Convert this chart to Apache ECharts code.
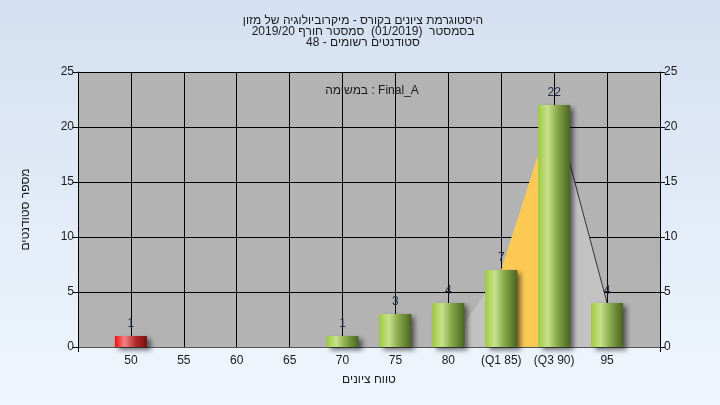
<!DOCTYPE html>
<html><head><meta charset="utf-8">
<script src="https://cdn.jsdelivr.net/npm/echarts@6/dist/echarts.min.js"></script>
<style>html,body{margin:0;padding:0}#c{width:720px;height:405px}</style>
</head><body><div id="c"></div>
<script>
const categories = ['', '50', '55', '60', '65', '70', '75', '80', '(Q1 85)', '(Q3 90)', '95', ''];
const counts = [null, 1, null, null, null, 1, 3, 4, 7, 22, 4, null];
const curve = [null, null, null, null, null, null, null, 0, 7, 22, 4, null];
const iqrBand = [null, null, null, null, null, null, null, null, 7, 22, null, null];
const tailLine = [null, null, null, null, null, null, null, null, null, 22, 4, null];
const failing = ['50'];
const yTicks = [0, 5, 10, 15, 20, 25];
const titleLines = ['היסטוגרמת ציונים בקורס - מיקרוביולוגיה של מזון', 'בסמסטר  (01/2019)  סמסטר חורף 2019/20', 'סטודנטים רשומים - 48'];
const subTitle = 'במשימה : Final_A';
const xName = 'טווח ציונים';
const yName = 'מספר סטודנטים';

const FONT = "'Liberation Sans', 'DejaVu Sans', Arial, sans-serif";
const TXT = '#1a1a1a';

const green = {type:'linear', x:0, y:0, x2:1, y2:0, colorStops:[
  {offset:0, color:'#9fcb3f'}, {offset:0.3, color:'#c7e18c'}, {offset:0.6, color:'#87a84a'}, {offset:1, color:'#4a6420'}]};
const red = {type:'linear', x:0, y:0, x2:1, y2:0, colorStops:[
  {offset:0, color:'#f21010'}, {offset:0.3, color:'#f28282'}, {offset:0.65, color:'#b42828'}, {offset:1, color:'#781010'}]};

const barData = counts.map((v, i) => v == null ? null : {
  value: v,
  itemStyle: { color: failing.includes(categories[i]) ? red : green }
});

const chart = echarts.init(document.getElementById('c'), null, {renderer:'canvas'});
chart.setOption({
  animation: false,
  backgroundColor: {type:'linear', x:0, y:0, x2:0, y2:1, colorStops:[{offset:0, color:'#d4e0f1'}, {offset:1, color:'#eff6fd'}]},
  title: [{
    text: titleLines.join('\n'),
    left: 358, top: 10, textAlign: 'center',
    textStyle: {fontFamily: FONT, fontSize: 12, fontWeight: 'normal', color: TXT, lineHeight: 11}
  }, {
    text: subTitle,
    left: 367, top: 80, textAlign: 'center',
    textStyle: {fontFamily: FONT, fontSize: 12, fontWeight: 'normal', color: TXT, lineHeight: 12}
  }],
  grid: {left: 78, right: 60, top: 72, bottom: 58, show: true, backgroundColor: '#b3b3b3', borderWidth: 0},
  xAxis: {
    type: 'category', data: categories, boundaryGap: false,
    name: xName, nameLocation: 'middle', nameGap: 27,
    nameTextStyle: {fontFamily: FONT, fontSize: 12, color: TXT},
    axisLine: {lineStyle: {color: '#555', width: 1}},
    axisTick: {show: true, interval: (i) => i === 0 || i === categories.length - 1, length: 5, lineStyle: {color: '#000'}},
    axisLabel: {interval: 0, fontFamily: FONT, fontSize: 12, color: TXT, margin: 8},
    splitLine: {show: true, interval: 0, lineStyle: {color: '#000', width: 1}}
  },
  yAxis: [{
    type: 'value', min: yTicks[0], max: yTicks[yTicks.length - 1], interval: 5, position: 'left',
    name: yName, nameLocation: 'middle', nameGap: 46,
    nameTextStyle: {fontFamily: FONT, fontSize: 12, color: TXT},
    axisLine: {show: true, lineStyle: {color: '#000'}},
    axisTick: {show: true, length: 5, lineStyle: {color: '#000'}},
    axisLabel: {fontFamily: FONT, fontSize: 12, color: TXT, margin: 4},
    splitLine: {show: true, lineStyle: {color: '#000', width: 1}}
  }, {
    type: 'value', min: yTicks[0], max: yTicks[yTicks.length - 1], interval: 5, position: 'right',
    axisLine: {show: true, lineStyle: {color: '#000'}},
    axisTick: {show: true, length: 5, lineStyle: {color: '#000'}},
    axisLabel: {fontFamily: FONT, fontSize: 12, color: TXT, margin: 4},
    splitLine: {show: false}
  }],
  series: [{
    type: 'line', data: curve, symbol: 'none', connectNulls: false, z: 1,
    lineStyle: {width: 0}, areaStyle: {color: '#c2c2c2', opacity: 1}
  }, {
    type: 'line', data: iqrBand, symbol: 'none', z: 2,
    lineStyle: {width: 0}, areaStyle: {color: '#fdc955', opacity: 1}
  }, {
    type: 'line', data: tailLine, symbol: 'none', z: 3,
    lineStyle: {width: 1, color: '#333'}
  }, {
    type: 'bar', data: barData, barWidth: 32, z: 5,
    itemStyle: {shadowColor: 'rgba(0,0,0,0.55)', shadowBlur: 5, shadowOffsetX: 4, shadowOffsetY: 3},
    label: {show: true, position: 'top', distance: 6, fontFamily: FONT, fontSize: 12, color: '#1f2c44'}
  }]
});
</script></body></html>
